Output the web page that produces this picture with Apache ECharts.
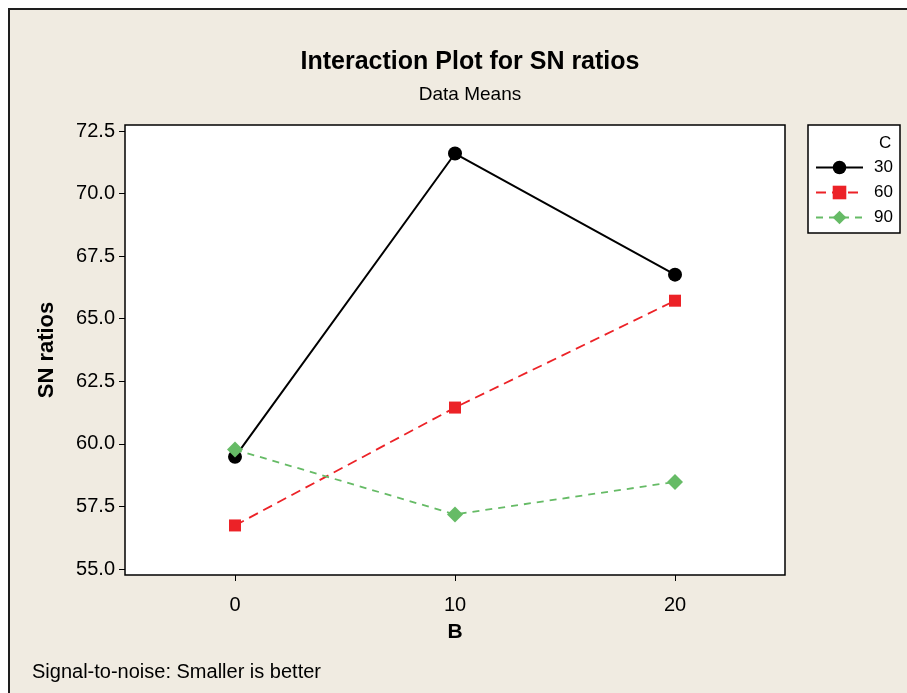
<!DOCTYPE html>
<html>
<head>
<meta charset="utf-8">
<script src="https://cdn.jsdelivr.net/npm/echarts@6/dist/echarts.min.js"></script>
<style>
  html, body { margin: 0; padding: 0; background: #ffffff; }
  #frame {
    position: absolute; left: 8px; top: 8px; width: 899px; height: 685px;
    background: #f0ebe1; border-top: 2px solid #1e1e1e; border-left: 2px solid #1e1e1e;
  }
  #chart { position: absolute; left: 0; top: 0; width: 907px; height: 693px; }
</style>
</head>
<body>
<div id="frame"></div>
<div id="chart"></div>
<script>
// Factor B levels on the x axis
const levelsB = [0, 10, 20];
// Mean SN ratios for each level of factor C
const seriesNames = ['30', '60', '90'];
const snC30 = [59.48, 71.6, 66.76];
const snC60 = [56.74, 61.45, 65.72];
const snC90 = [59.77, 57.18, 58.48];
// Axis tick values
const yTicks = [55.0, 57.5, 60.0, 62.5, 65.0, 67.5, 70.0, 72.5];
const xTicks = [0, 10, 20];

const FONT = '"Liberation Sans", Arial, sans-serif';
const pair = (vals) => levelsB.map((b, i) => [b, vals[i]]);

const chart = echarts.init(document.getElementById('chart'), null, { renderer: 'canvas' });

chart.setOption({
  backgroundColor: 'transparent',
  animation: false,
  textStyle: { fontFamily: FONT },
  title: [
    {
      text: 'Interaction Plot for SN ratios',
      left: 465, top: 45, textAlign: 'center',
      textStyle: { fontFamily: FONT, fontSize: 25, fontWeight: 'bold', color: '#000' }
    },
    {
      text: 'Data Means',
      left: 465, top: 80, textAlign: 'center',
      textStyle: { fontFamily: FONT, fontSize: 19, fontWeight: 'normal', color: '#000' }
    }
  ],
  grid: {
    show: true, left: 125, top: 125, right: 122, bottom: 118,
    backgroundColor: '#ffffff', borderColor: '#000', borderWidth: 1.5
  },
  xAxis: {
    type: 'value', min: -5, max: 25,
    name: 'B', nameLocation: 'middle', nameGap: 47,
    nameTextStyle: { fontFamily: FONT, fontSize: 21, fontWeight: 'bold', color: '#000' },
    axisLine: { show: false, onZero: false },
    splitLine: { show: false },
    axisTick: { show: true, length: 6, lineStyle: { color: '#000', width: 1 }, customValues: xTicks },
    axisLabel: { margin: 20, fontSize: 20, color: '#000', fontFamily: FONT, customValues: xTicks }
  },
  yAxis: {
    type: 'value', min: 54.76, max: 72.74,
    name: 'SN ratios', nameLocation: 'middle', nameGap: 67, nameRotate: 90,
    nameTextStyle: { fontFamily: FONT, fontSize: 22, fontWeight: 'bold', color: '#000' },
    axisLine: { show: false, onZero: false },
    splitLine: { show: false },
    axisTick: { show: true, length: 6, lineStyle: { color: '#000', width: 1 }, customValues: yTicks },
    axisLabel: {
      margin: 10, fontSize: 20, color: '#000', fontFamily: FONT, customValues: yTicks,
      formatter: (v) => Number(v).toFixed(1)
    }
  },
  legend: {
    orient: 'vertical', left: 810, top: 154,
    itemWidth: 47, itemHeight: 17, itemGap: 8,
    data: seriesNames,
    textStyle: { fontFamily: FONT, fontSize: 17, color: '#000', padding: [0, 0, 0, 6] }
  },
  graphic: [
    {
      type: 'rect', z: 1,
      shape: { x: 808, y: 125, width: 92, height: 108 },
      style: { fill: '#ffffff', stroke: '#000', lineWidth: 1.5 }
    },
    {
      type: 'text', z: 5, left: 879, top: 135,
      style: { text: 'C', fontFamily: FONT, fontSize: 17, fill: '#000' }
    },
    {
      type: 'text', z: 5, left: 32, top: 662,
      style: { text: 'Signal-to-noise: Smaller is better', fontFamily: FONT, fontSize: 20, fill: '#000' }
    }
  ],
  series: [
    {
      name: seriesNames[0], type: 'line', data: pair(snC30),
      symbol: 'circle', symbolSize: 14,
      lineStyle: { color: '#000', width: 2, type: 'solid' },
      itemStyle: { color: '#000' }
    },
    {
      name: seriesNames[1], type: 'line', data: pair(snC60),
      symbol: 'rect', symbolSize: 12,
      lineStyle: { color: '#ec2227', width: 1.8, type: [10, 6] },
      itemStyle: { color: '#ec2227' }
    },
    {
      name: seriesNames[2], type: 'line', data: pair(snC90),
      symbol: 'diamond', symbolSize: 16,
      lineStyle: { color: '#66bb66', width: 1.8, type: [7, 6] },
      itemStyle: { color: '#66bb66' }
    }
  ]
});
</script>
</body>
</html>
